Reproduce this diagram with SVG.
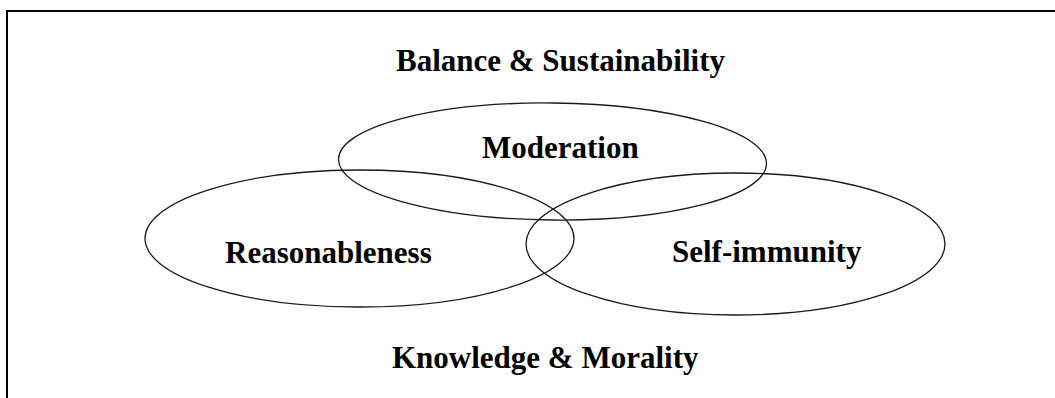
<svg xmlns="http://www.w3.org/2000/svg" width="1055" height="398" viewBox="0 0 1055 398">
  <style>
    .frame { fill: none; stroke: #000; stroke-width: 2; }
    .ring { fill: none; stroke: #1a1a1a; stroke-width: 1.3; }
    .label { font-family: "Liberation Serif", "Times New Roman", serif; font-weight: bold; font-size: 31px; fill: #000; }
  </style>
  <rect width="1055" height="398" fill="#fff"/>
  <!-- outer frame, open past the right and bottom edges -->
  <rect class="frame" x="7" y="11" width="1100" height="450"/>

  <g id="balance-sustainability">
    <text class="label" x="396" y="71">Balance &amp; Sustainability</text>
  </g>

  <g id="connectors">
    <ellipse class="ring" cx="552.5" cy="161.5" rx="214" ry="58.5" transform="rotate(0.6 552.5 161.5)"/>
    <ellipse class="ring" cx="359.5" cy="238.5" rx="214.5" ry="68.5"/>
    <ellipse class="ring" cx="735.5" cy="244" rx="209.5" ry="71"/>
  </g>

  <g id="moderation">
    <text class="label" x="482" y="158">Moderation</text>
  </g>
  <g id="reasonableness">
    <text class="label" x="225" y="263">Reasonableness</text>
  </g>
  <g id="self-immunity">
    <text class="label" x="672" y="262">Self-immunity</text>
  </g>
  <g id="knowledge-morality">
    <text class="label" x="392" y="368">Knowledge &amp; Morality</text>
  </g>
</svg>
